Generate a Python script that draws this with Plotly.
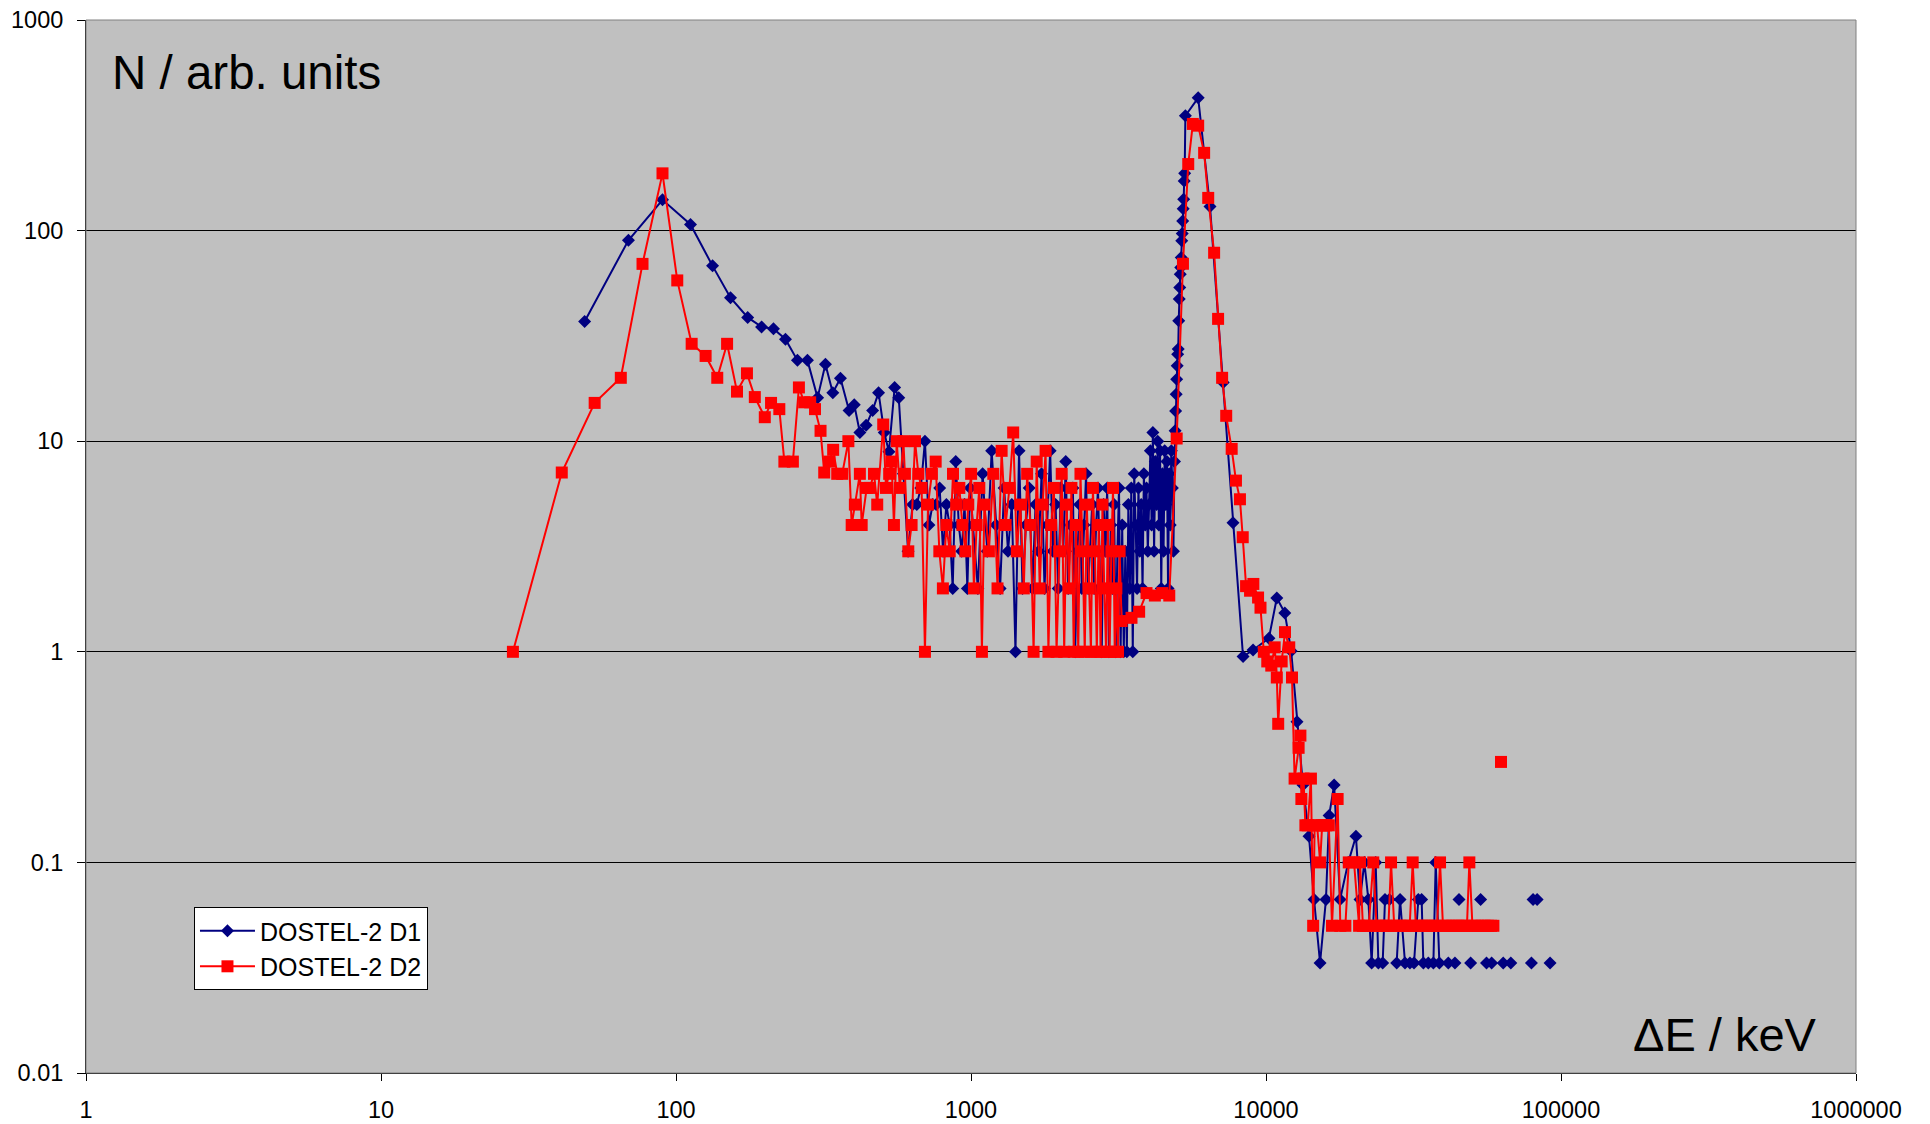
import plotly.graph_objects as go

# ─── Data (ΔE in keV, N in arb. units) ───────────────────────────────────────
# None marks empty bins: the line breaks there, as in the original
d1_energy = [
    49, 69, 90, 112, 133, 153, 175, 195, 214, 235, 258, 279, 302, 321, 340, 361, 386, 402, 420, 441,
    464, 486, 508, 527, 551, 569, 590, 612, 634, 655, 676, 698,
    720, 741, 762, 783, 804, 825, 846, 867, 888, 909, 930, 951, 972, 993,
    1015, 1055, 1095, 1135, 1175, 1215, 1255, 1295, 1335, 1375,
    1415, 1455, 1495, 1535, 1575, 1615, 1655, 1695, 1735, 1775,
    1815, 1855, 1895, 1935, 1975, 2015, 2055, 2095, 2135, 2175,
    2215, 2255, 2295, 2335, 2375, 2415, 2455, 2495, 2535, 2575,
    2615, 2655, 2695, 2735, 2775, 2815, 2855, 2895, 2935, 2975,
    3015, 3055, 3095, 3135, 3175, 3215, 3255, 3295,
    3335, 3375, 3415, 3455, 3495, 3535, 3575, 3615, 3655, 3695,
    3735, 3775, 3815, 3855, 3895, 3935, 3975, 4015, 4055, 4095,
    4135, 4175, 4215, 4255, 4295, 4335, 4375, 4415, 4455, 4495,
    4535, 4575, 4615, 4655, 4695, 4735, 4775, 4815, 4855, 4895,
    4920, 4940, 4960, 4980, 5000, 5020, 5040, 5060, 5080, 5100,
    5120, 5140, 5160, 5180, 5200, 5220, 5240, 5260, 5280, 5300, 5330,
    5890, 6460, 7160, 7730, 8360, 9040, 10230, 10880, 11580, 12170,
    12740, 13340, 13990, 14550, 15250, 15970, 16370, 17020, 17830,
    19000, 20180, 20830, 21550, 22230, 22810, 23540, 24040, 24860, 25320, 26190, None,
    27730, 28470, 29600, 30760, 31750, 32840, 33700, 34150, 35500, 36930, 37610, 38700, None,
    41500, 43700, None, 45100, None, 49400, None, 53400, None, 55900, None, 58200, None,
    63700, None, 67600, None, 79400, None, 80400, 83000, None, 91800,
]
d1_counts = [
    37, 90, 140, 107, 68, 48, 38.7, 34.9, 34.2, 30.5, 24.2, 24.2, 16.1, 23.2, 17, 19.9, 14, 14.9, 11, 11.9,
    14, 17, 11, 8.9, 18, 16.1, 7, 3, 5, 5, 6, 10,
    4, 5, 5, 6, 3, 5, 4, 2, 8, 4, 3, 5, 2, 6,
    4, 2, 7, 3, 9, 4, 2, 6, 3, 5,
    1, 9, 2, 4, 6, 2, 5, 3, 7, 2,
    4, 9, 3, 5, 2, 6, 3, 8, 2, 4,
    6, 1, 3, 5, 2, 4, 7, 2, 3, 5,
    2, 4, 6, 2, 1, 5, 3, 6, 1, 4,
    2, 5, 1, 3, 6, 1, 4, 1,
    3, 1, 5, 2, 6, 1, 7, 4, 2, 6,
    3, 5, 2, 7, 4, 6, 3, 5, 9, 4,
    11, 3, 8, 5, 10, 4, 9, 2, 7, 3,
    9, 5, 8, 2, 7, 4, 9, 6, 3, 8,
    11.2, 13.9, 16.7, 19.7, 22.8, 25.9, 27.4, 37.3, 47.3, 53.7,
    62, 66.8, 74.5, 89.5, 97, 111, 127, 141, 172, 187, 351,
    427, 130, 19, 4.1, 0.95, 1.02, 1.16, 1.8, 1.53, 1.01,
    0.465, 0.233, 0.133, 0.0667, 0.0333, 0.0667, 0.167, 0.233, 0.0667,
    0.1, 0.133, 0.0667, 0.1, 0.0667, 0.0333, 0.1, 0.0333, 0.0333, 0.0667, 0.0667, None,
    0.0333, 0.0667, 0.0333, 0.0333, 0.0333, 0.0667, 0.0667, 0.0333, 0.0333, 0.0333, 0.1, 0.0333, None,
    0.0333, 0.0333, None, 0.0667, None, 0.0333, None, 0.0667, None, 0.0333, None, 0.0333, None,
    0.0333, None, 0.0333, None, 0.0333, None, 0.0667, 0.0667, None, 0.0333,
]

d2_energy = [
    28, 41, 53, 65, 77, 90, 101, 113, 126, 138, 149, 161, 174, 185, 200, 210, 224, 233, 249,
    261, 272, 285, 296, 309, 318, 331, 341, 352, 366,
    384, 394, 404, 420, 426, 443, 454, 469, 481, 504,
    515, 528, 538, 548, 560, 574, 590, 597, 613, 629,
    646, 663, 680, 698,
    715, 737, 759, 781, 803, 825, 847, 869, 891, 913, 935, 957, 979, 1001, 1023, 1045, 1067, 1089,
    1110, 1150, 1190, 1230, 1270, 1310, 1350, 1390, 1430, 1470,
    1510, 1550, 1590, 1630, 1670, 1710, 1750, 1790, 1830, 1870,
    1910, 1950, 1990, 2030, 2070, 2110, 2150, 2190, 2230, 2270,
    2310, 2350, 2390, 2430, 2470, 2510, 2550, 2590, 2630, 2670,
    2710, 2750, 2790, 2830, 2870, 2910, 2950, 2990, 3030, 3070,
    3110, 3150, 3190,
    3240, 3500, 3715, 3935, 4200, 4450, 4700, 4980,
    5230, 5450, 5650, 5890, 6170, 6370, 6670, 6880, 7100, 7330, 7650, 7910,
    8160, 8340, 8560, 8830, 9060, 9400, 9580, 9830, 10100, 10420,
    10700, 10880, 11000, 11300, 11600, 11990, 12250,
    12500, 12900, 13080, 13180, 13400, 13600, 13850, 14200, 14450, 14620,
    14900, 15260, 15500, 15730, 16000, 16330, 16740, 17490, 17860, 18580,
    19080, 19880, 20680, 20830,
    21300, 21800, 22300, 23100, 23700, 24300, 24900, 25500, 26000, 26540,
    27200, 27900, 28600, 29300, 30000, 30700, 31420, 32200, 33000, 33800,
    34600, 35400, 36300, 37200, 38000, 38900, 39800, 40800, 41800, 42800,
    43800, 44900, 46000, 47000, 48000, 48900, 50100, 51300, 52500, 53800,
    55100, 56500, 57900, 59000, None, 62600,
]
d2_counts = [
    1, 7.1, 15.2, 20, 69.5, 187, 58, 29, 25.4, 20, 29, 17.2, 21, 16.2, 13, 15.2, 14.2, 8, 8,
    18, 15.3, 15.3, 14.2, 11.2, 7.1, 8, 9.1, 7, 7,
    10, 4, 5, 7, 4, 6, 6, 7, 5, 12,
    6, 7, 8, 4, 10, 6, 10, 7, 3, 4,
    10, 7, 6, 1,
    5, 7, 8, 3, 2, 4, 3, 7, 5, 6, 4, 3, 5, 7, 2, 4, 6, 1,
    5, 3, 7, 2, 9, 4, 6, 11, 3, 5,
    2, 7, 4, 1, 8, 2, 5, 9, 1, 4,
    6, 1, 3, 7, 1, 5, 2, 6, 1, 4,
    1, 7, 3, 1, 5, 2, 1, 6, 3, 1,
    4, 1, 5, 2, 1, 4, 1, 3, 6, 1,
    2, 1, 3,
    1.4, 1.45, 1.55, 1.9, 1.85, 1.9, 1.85, 10.3,
    69.6, 207, 321, 315, 234, 143, 78.5, 38.1, 20, 13.2, 9.2, 6.5,
    5.3, 3.5, 2.05, 1.95, 2.1, 1.81, 1.62, 1.0, 0.9, 0.86,
    1.05, 0.755, 0.455, 0.9, 1.24, 1.05, 0.755,
    0.25, 0.35, 0.4, 0.2, 0.25, 0.15, 0.15, 0.25, 0.05, 0.15,
    0.15, 0.1, 0.15, 0.15, 0.15, 0.15, 0.05, 0.2, 0.05, 0.05,
    0.1, 0.1, 0.05, 0.1,
    0.05, 0.05, 0.05, 0.1, 0.05, 0.05, 0.05, 0.05, 0.05, 0.1,
    0.05, 0.05, 0.05, 0.05, 0.05, 0.05, 0.1, 0.05, 0.05, 0.05,
    0.05, 0.05, 0.05, 0.05, 0.05, 0.1, 0.05, 0.05, 0.05, 0.05,
    0.05, 0.05, 0.05, 0.05, 0.05, 0.1, 0.05, 0.05, 0.05, 0.05,
    0.05, 0.05, 0.05, 0.05, None, 0.3,
]

assert len(d1_energy) == len(d1_counts)
assert len(d2_energy) == len(d2_counts)

x_tick_vals = [1, 10, 100, 1000, 10000, 100000, 1000000]
x_tick_text = ["1", "10", "100", "1000", "10000", "100000", "1000000"]
y_tick_vals = [0.01, 0.1, 1, 10, 100, 1000]
y_tick_text = ["0.01", "0.1", "1", "10", "100", "1000"]

# ─── Style ───────────────────────────────────────────────────────────────────
FONT = "Liberation Sans, Arial, sans-serif"
D1_COLOR = "#000080"
D2_COLOR = "#FF0000"
PLOT_BG = "#C0C0C0"

fig = go.Figure()

fig.add_trace(go.Scatter(
    x=d1_energy, y=d1_counts,
    mode="lines+markers",
    name="DOSTEL-2 D1",
    line=dict(color=D1_COLOR, width=2),
    marker=dict(symbol="diamond", size=10, color=D1_COLOR, line=dict(width=0)),
    connectgaps=False,
))
fig.add_trace(go.Scatter(
    x=d2_energy, y=d2_counts,
    mode="lines+markers",
    name="DOSTEL-2 D2",
    line=dict(color=D2_COLOR, width=2),
    marker=dict(symbol="square", size=12, color=D2_COLOR, line=dict(width=0)),
    connectgaps=False,
))

fig.update_layout(
    width=1930,
    height=1124,
    margin=dict(l=86, r=74, t=20, b=51),
    paper_bgcolor="white",
    plot_bgcolor=PLOT_BG,
    font=dict(family=FONT, color="black", size=23.5),
    xaxis=dict(
        type="log",
        range=[0, 6],
        tickvals=x_tick_vals,
        ticktext=x_tick_text,
        ticks="outside",
        ticklen=7,
        tickcolor="black",
        tickfont=dict(size=23.5),
        ticklabelstandoff=9,
        automargin=False,
        showgrid=False,
        showline=True,
        linecolor="black",
        linewidth=1,
        zeroline=False,
    ),
    yaxis=dict(
        type="log",
        range=[-2, 3],
        tickvals=y_tick_vals,
        ticktext=y_tick_text,
        ticks="outside",
        ticklen=8,
        tickcolor="black",
        tickfont=dict(size=23.5),
        ticklabelstandoff=9,
        automargin=False,
        showgrid=True,
        gridcolor="black",
        gridwidth=1,
        showline=True,
        linecolor="black",
        linewidth=1,
        zeroline=False,
    ),
    showlegend=True,
    legend=dict(
        x=0.061, y=0.1576,
        xanchor="left", yanchor="top",
        bgcolor="white",
        bordercolor="black",
        borderwidth=1,
        font=dict(family=FONT, size=25, color="black"),
        itemwidth=55,
    ),
    shapes=[dict(
        type="rect", xref="paper", yref="paper",
        x0=0, x1=1, y0=0, y1=1,
        line=dict(color="#808080", width=1),
    )],
    annotations=[
        dict(
            text="N / arb. units", xref="paper", yref="paper",
            x=0.0135, y=0.9506, xanchor="left", yanchor="middle",
            showarrow=False, font=dict(family=FONT, size=47.5, color="black"),
        ),
        dict(
            text="ΔE / keV", xref="paper", yref="paper",
            x=0.979, y=0.037, xanchor="right", yanchor="middle",
            showarrow=False, font=dict(family=FONT, size=47, color="black"),
        ),
    ],
)

fig.write_html(
    "out.html",
    config={"displayModeBar": False},
    post_script="document.body.style.margin='0';",
)
